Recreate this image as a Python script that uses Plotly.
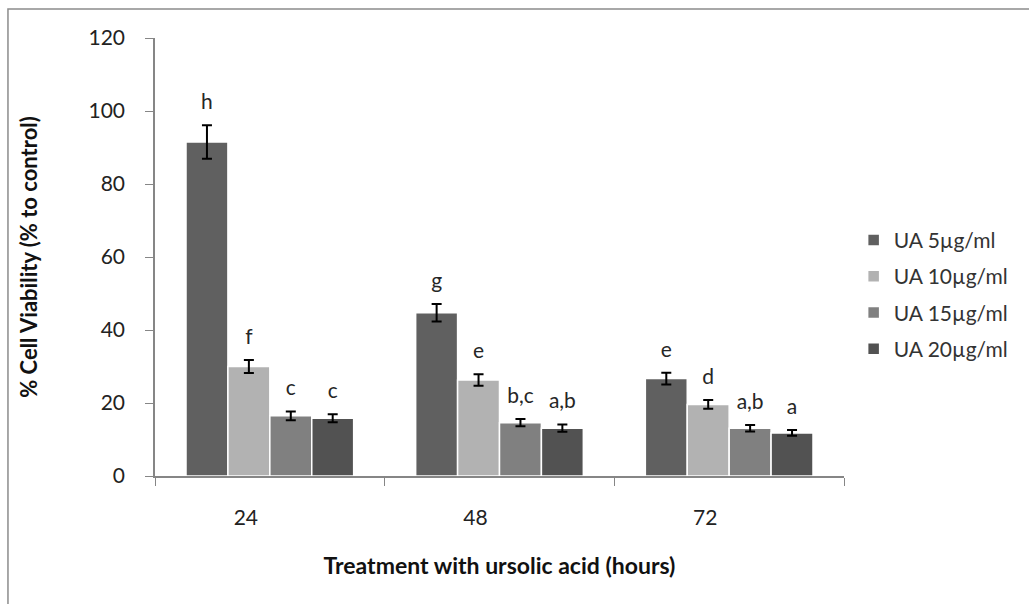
import plotly.graph_objects as go

hours = ["24", "48", "72"]
series_names = ["UA 5µg/ml", "UA 10µg/ml", "UA 15µg/ml", "UA 20µg/ml"]
ua5 = [91.5, 44.7, 26.7]
ua10 = [30.0, 26.3, 19.6]
ua15 = [16.5, 14.6, 13.1]
ua20 = [15.8, 13.1, 11.8]
err5 = [4.6, 2.4, 1.6]
err10 = [1.8, 1.6, 1.2]
err15 = [1.2, 1.0, 0.9]
err20 = [1.1, 1.0, 0.8]
let5 = ["h", "g", "e"]
let10 = ["f", "e", "d"]
let15 = ["c", "b,c", "a,b"]
let20 = ["c", "a,b", "a"]

values = [ua5, ua10, ua15, ua20]
errors = [err5, err10, err15, err20]
letters = [let5, let10, let15, let20]
colors = ["#606060", "#b2b2b2", "#808080", "#525252"]

FONT = "Lato, 'Open Sans', sans-serif"
LABEL_PAD = 3.0  # gap between error-bar cap and letter, in axis units

fig = go.Figure()
for i in range(4):
    fig.add_trace(go.Bar(
        x=hours, y=values[i], name=series_names[i],
        offsetgroup=str(i), legendgroup=str(i),
        marker=dict(color=colors[i], line=dict(color="white", width=1.5)),
        error_y=dict(type="data", array=errors[i], color="black", thickness=2, width=5),
    ))
for i in range(4):
    fig.add_trace(go.Scatter(
        x=hours, y=[v + e + LABEL_PAD for v, e in zip(values[i], errors[i])],
        mode="text", text=letters[i], textposition="top center",
        textfont=dict(family=FONT, size=21, color="#262626"),
        offsetgroup=str(i), showlegend=False, hoverinfo="skip",
    ))

fig.update_layout(
    width=1029, height=604,
    margin=dict(l=155, r=185, t=38, b=128),
    paper_bgcolor="white", plot_bgcolor="white",
    barmode="group", bargap=0.27, bargroupgap=0,
    scattermode="group", scattergap=0.27,
    font=dict(family=FONT, size=21, color="#222222"),
    showlegend=True,
    legend=dict(x=1.014, y=0.585, xanchor="left", yanchor="top",
                traceorder="grouped", tracegroupgap=6,
                font=dict(family=FONT, size=21, color="#333333"),
                bgcolor="rgba(0,0,0,0)"),
    xaxis=dict(
        type="category", showline=True, linecolor="#868686", linewidth=1.5,
        ticks="outside", tickson="boundaries", ticklen=8, tickcolor="#868686",
        showgrid=False, ticklabelshift=-24, ticklabelstandoff=22,
        tickfont=dict(family=FONT, size=21, color="#222222"),
        title=dict(text="<b>Treatment with ursolic acid (hours)</b>", standoff=30,
                   font=dict(family=FONT, size=23, color="#111111")),
    ),
    yaxis=dict(
        range=[0, 120], dtick=20, showline=True, linecolor="#868686", linewidth=1.5,
        ticks="outside", ticklen=8, tickcolor="#868686", showgrid=False, zeroline=False,
        ticklabelstandoff=16,
        tickfont=dict(family=FONT, size=21, color="#222222"),
        title=dict(text="<b>% Cell Viability (% to control)</b>", standoff=45,
                   font=dict(family=FONT, size=22, color="#111111")),
    ),
    shapes=[dict(type="rect", xref="paper", yref="paper",
                 x0=-0.2134, x1=2, y0=-1, y1=1.0662,
                 line=dict(color="#8c8c8c", width=1.5), layer="below")],
)

fig.write_html("out.html")
